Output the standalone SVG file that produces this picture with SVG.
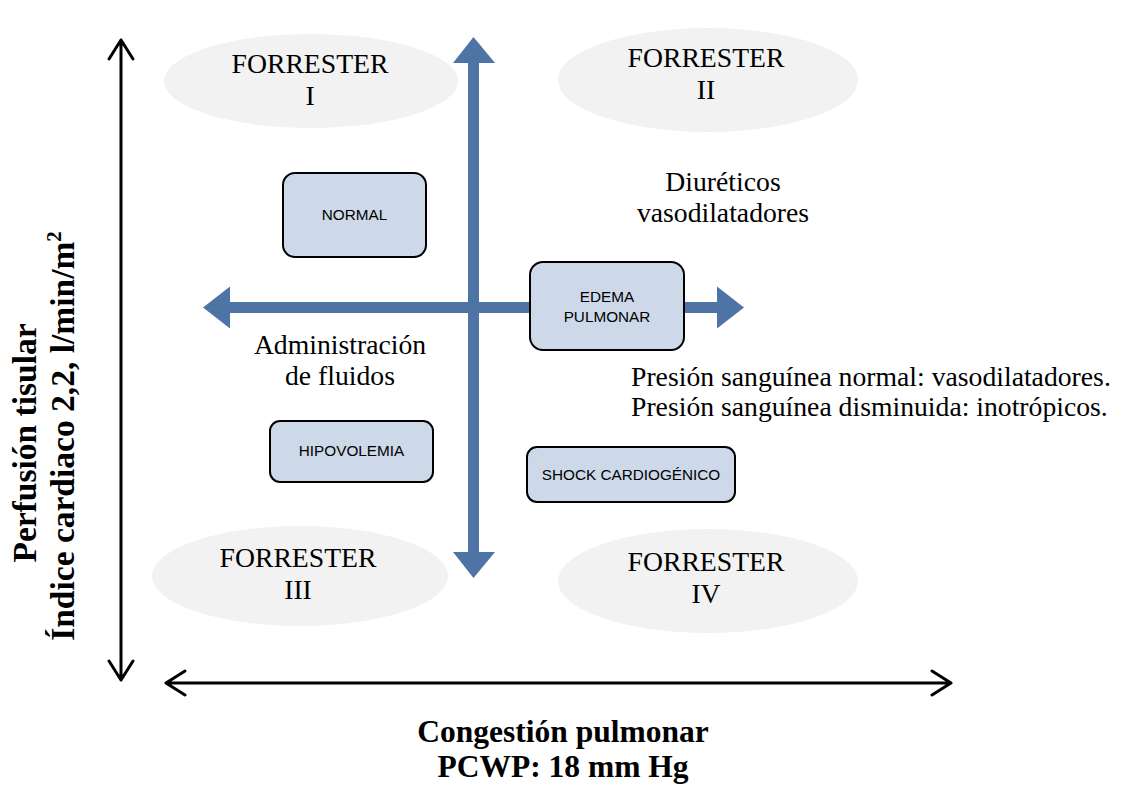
<svg xmlns="http://www.w3.org/2000/svg" width="1121" height="787" viewBox="0 0 1121 787">
<style>
.ell{fill:#f2f2f2;stroke:none}
.box{fill:#cdd8e8;stroke:#000;stroke-width:2}
.bt{font-family:"Liberation Sans",Arial,sans-serif;font-size:15.3px;fill:#000;text-anchor:middle}
.ser{font-family:"Liberation Serif","Times New Roman",serif;font-size:27.7px;fill:#000}
.mid{text-anchor:middle}
.bold{font-family:"Liberation Serif","Times New Roman",serif;font-size:31.5px;font-weight:bold;fill:#000;text-anchor:middle}
.vl{font-size:33.5px}
.blue{fill:#4e74a6}
.ax{stroke:#000;stroke-width:3;fill:none;stroke-linecap:round;stroke-linejoin:round}
</style>
<rect width="1121" height="787" fill="#fff"/>
<g id="forrester1"><ellipse class="ell" cx="311" cy="81" rx="147" ry="47"/><text class="ser mid" x="310" y="73">FORRESTER</text><text class="ser mid" x="310" y="105">I</text></g>
<g id="forrester2"><ellipse class="ell" cx="708" cy="80" rx="150" ry="52"/><text class="ser mid" x="706" y="67">FORRESTER</text><text class="ser mid" x="706" y="99">II</text></g>
<g id="forrester3"><ellipse class="ell" cx="300" cy="576" rx="148" ry="50"/><text class="ser mid" x="298" y="567">FORRESTER</text><text class="ser mid" x="298" y="599">III</text></g>
<g id="forrester4"><ellipse class="ell" cx="708" cy="581" rx="150" ry="52"/><text class="ser mid" x="706" y="571">FORRESTER</text><text class="ser mid" x="706" y="603">IV</text></g>
<g id="connectors">
<polygon class="blue" points="473.5,37 495,63 479,63 479,552 495,552 473.5,578 453,552 468,552 468,63 453,63"/>
<polygon class="blue" points="203,307.5 230,286.5 230,302 717,302 717,286.5 744,307.5 717,328.5 717,313 230,313 230,328.5"/>
<path class="ax" d="M121,40 V680 M109,59 L121,40 L133,59 M109,661 L121,680 L133,661"/>
<path class="ax" d="M166,683 H951 M185,671 L166,683 L185,695 M932,671 L951,683 L932,695"/>
</g>
<g id="normal"><rect class="box" x="283" y="173" width="143" height="84" rx="12"/><text class="bt" x="354.5" y="220">NORMAL</text></g>
<g id="edema"><rect class="box" x="530" y="262" width="154" height="88" rx="13"/><text class="bt" x="607" y="302">EDEMA</text><text class="bt" x="607" y="322">PULMONAR</text></g>
<g id="hipovolemia"><rect class="box" x="270" y="421" width="163" height="61" rx="10"/><text class="bt" x="351.5" y="456">HIPOVOLEMIA</text></g>
<g id="shock"><rect class="box" x="527" y="447" width="208" height="55" rx="10"/><text class="bt" x="631" y="480">SHOCK CARDIOGÉNICO</text></g>
<g id="labels">
<text class="ser mid" x="723" y="191">Diuréticos</text>
<text class="ser mid" x="723" y="222">vasodilatadores</text>
<text class="ser mid" x="340" y="354">Administración</text>
<text class="ser mid" x="340" y="385">de fluidos</text>
<text class="ser" x="631" y="386">Presión sanguínea normal: vasodilatadores.</text>
<text class="ser" x="631" y="416">Presión sanguínea disminuida: inotrópicos.</text>
<text class="bold" x="563" y="742">Congestión pulmonar</text>
<text class="bold" x="563" y="777">PCWP: 18 mm Hg</text>
<text class="bold vl" transform="translate(36,443) rotate(-90)" x="0" y="0">Perfusión tisular</text>
<text class="bold vl" transform="translate(74,436) rotate(-90)" x="0" y="0">Índice cardiaco 2,2, l/min/m<tspan font-size="21" dy="-13">2</tspan></text>
</g>
</svg>
